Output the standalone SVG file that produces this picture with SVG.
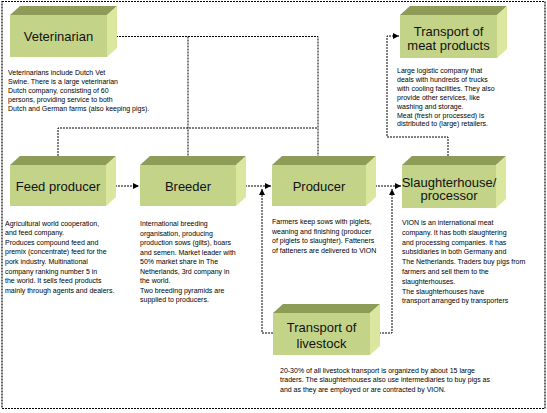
<svg xmlns="http://www.w3.org/2000/svg" width="547" height="413" viewBox="0 0 547 413">
<defs>
<marker id="arr" viewBox="0 0 6 6" refX="6" refY="3" markerWidth="6" markerHeight="6" markerUnits="userSpaceOnUse" orient="auto">
<path d="M0,0 L6,3 L0,6 z" fill="#000"/>
</marker>
<style>
.front{fill:#c3d489;}
.top{fill:#8d9d58;}
.side{fill:#dbe69e;}
.lbl{font-family:"Liberation Sans",Arial,sans-serif;font-size:13px;fill:#111;text-anchor:middle;}
.txt{font-family:"Liberation Sans",Arial,sans-serif;font-size:7px;fill:#000;}
.con{fill:none;stroke:#000;stroke-width:1;stroke-dasharray:2 1;}
.border{fill:none;stroke:#000;stroke-width:1.2;stroke-dasharray:2 1;}
</style>
</defs>
<rect x="0" y="0" width="547" height="413" fill="#fff"/>
<rect class="border" x="2" y="1.5" width="543" height="407"/>

<g id="connectors">
<path class="con" d="M107,36.5 H318 V164" marker-end="url(#arr)"/>
<path class="con" d="M188,36.5 V164" marker-end="url(#arr)"/>
<path class="con" d="M58,165 V128 H318"/>
<path class="con" d="M106,186 H139" marker-end="url(#arr)"/>
<path class="con" d="M236,186 H271" marker-end="url(#arr)"/>
<path class="con" d="M366,186 H401" marker-end="url(#arr)"/>
<path class="con" d="M273,333 H262 V189" marker-end="url(#arr)"/>
<path class="con" d="M370,333 H392 V189" marker-end="url(#arr)"/>
<path class="con" d="M448,165 V137 H387 V36 H399" marker-end="url(#arr)"/>
</g>

<g id="veterinarian">
<polygon class="top" points="10,15 20,6 117,6 107,15"/>
<polygon class="side" points="107,15 117,6 117,48 107,57"/>
<rect class="front" x="10" y="15" width="97" height="42"/>
<text class="lbl" x="58.5" y="41">Veterinarian</text>
</g>

<g id="feed-producer">
<polygon class="top" points="10,165 20,156 116,156 106,165"/>
<polygon class="side" points="106,165 116,156 116,197 106,206"/>
<rect class="front" x="10" y="165" width="96" height="41"/>
<text class="lbl" x="58" y="191">Feed producer</text>
</g>

<g id="breeder">
<polygon class="top" points="140,165 150,156 246,156 236,165"/>
<polygon class="side" points="236,165 246,156 246,197 236,206"/>
<rect class="front" x="140" y="165" width="96" height="41"/>
<text class="lbl" x="188" y="191">Breeder</text>
</g>

<g id="producer">
<polygon class="top" points="272,165 282,156 376,156 366,165"/>
<polygon class="side" points="366,165 376,156 376,197 366,206"/>
<rect class="front" x="272" y="165" width="94" height="41"/>
<text class="lbl" x="319" y="191">Producer</text>
</g>

<g id="slaughterhouse">
<polygon class="top" points="402,165 412,156 506,156 496,165"/>
<polygon class="side" points="496,165 506,156 506,199 496,208"/>
<rect class="front" x="402" y="165" width="94" height="43"/>
<text class="lbl" x="449" y="186.5">Slaughterhouse/</text>
<text class="lbl" x="449" y="200">processor</text>
</g>

<g id="transport-meat">
<polygon class="top" points="400,15 410,6 507,6 497,15"/>
<polygon class="side" points="497,15 507,6 507,49 497,58"/>
<rect class="front" x="400" y="15" width="97" height="43"/>
<text class="lbl" x="448.5" y="36">Transport of</text>
<text class="lbl" x="448.5" y="50">meat products</text>
</g>

<g id="transport-livestock">
<polygon class="top" points="273,313 283,304 380,304 370,313"/>
<polygon class="side" points="370,313 380,304 380,346 370,355"/>
<rect class="front" x="273" y="313" width="97" height="42"/>
<text class="lbl" x="321.5" y="332">Transport of</text>
<text class="lbl" x="321.5" y="347.5">livestock</text>
</g>

<g id="texts">
<text class="txt" x="8" y="75">
<tspan x="8" dy="0">Veterinarians include Dutch Vet</tspan>
<tspan x="8" dy="9">Swine. There is a large veterinarian</tspan>
<tspan x="8" dy="9">Dutch company, consisting of 60</tspan>
<tspan x="8" dy="9">persons, providing service to both</tspan>
<tspan x="8" dy="9">Dutch and German farms (also keeping pigs).</tspan>
</text>
<text class="txt" x="5" y="225.5">
<tspan x="5" dy="0">Agricultural world cooperation,</tspan>
<tspan x="5" dy="9.6">and feed company.</tspan>
<tspan x="5" dy="9.6">Produces compound feed and</tspan>
<tspan x="5" dy="9.6">premix (concentrate) feed for the</tspan>
<tspan x="5" dy="9.6">pork industry. Multinational</tspan>
<tspan x="5" dy="9.6">company ranking number 5 in</tspan>
<tspan x="5" dy="9.6">the world. It sells feed products</tspan>
<tspan x="5" dy="9.6">mainly through agents and dealers.</tspan>
</text>
<text class="txt" x="140" y="226">
<tspan x="140" dy="0">International breeding</tspan>
<tspan x="140" dy="9.5">organisation, producing</tspan>
<tspan x="140" dy="9.5">production sows (gilts), boars</tspan>
<tspan x="140" dy="9.5">and semen. Market leader with</tspan>
<tspan x="140" dy="9.5">50% market share in The</tspan>
<tspan x="140" dy="9.5">Netherlands, 3rd company in</tspan>
<tspan x="140" dy="9.5">the world.</tspan>
<tspan x="140" dy="9.5">Two breeding pyramids are</tspan>
<tspan x="140" dy="9.5">supplied to producers.</tspan>
</text>
<text class="txt" x="272" y="224">
<tspan x="272" dy="0">Farmers keep sows with piglets,</tspan>
<tspan x="272" dy="9.5">weaning and finishing (producer</tspan>
<tspan x="272" dy="9.5">of piglets to slaughter). Fatteners</tspan>
<tspan x="272" dy="9.5">of fatteners are delivered to VION</tspan>
</text>
<text class="txt" x="402" y="225">
<tspan x="402" dy="0">VION is an international meat</tspan>
<tspan x="402" dy="9.8">company. It has both slaughtering</tspan>
<tspan x="402" dy="9.8">and processing companies. It has</tspan>
<tspan x="402" dy="9.8">subsidiaries in both Germany and</tspan>
<tspan x="402" dy="9.8">The Netherlands. Traders buy pigs from</tspan>
<tspan x="402" dy="9.8">farmers and sell them to the</tspan>
<tspan x="402" dy="9.8">slaughterhouses.</tspan>
<tspan x="402" dy="9.8">The slaughterhouses have</tspan>
<tspan x="402" dy="9.8">transport arranged by transporters</tspan>
</text>
<text class="txt" x="397" y="73">
<tspan x="397" dy="0">Large logistic company that</tspan>
<tspan x="397" dy="8.9">deals with hundreds of trucks</tspan>
<tspan x="397" dy="8.9">with cooling facilities. They also</tspan>
<tspan x="397" dy="8.9">provide other services, like</tspan>
<tspan x="397" dy="8.9">washing and storage.</tspan>
<tspan x="397" dy="8.9">Meat (fresh or processed) is</tspan>
<tspan x="397" dy="8.9">distributed to (large) retailers.</tspan>
</text>
<text class="txt" x="280" y="372.5">
<tspan x="280" dy="0">20-30% of all livestock transport is organized by about 15 large</tspan>
<tspan x="280" dy="9.5">traders. The slaughterhouses also use intermediaries to buy pigs as</tspan>
<tspan x="280" dy="9.5">and as they are employed or are contracted by VION.</tspan>
</text>
</g>
</svg>
